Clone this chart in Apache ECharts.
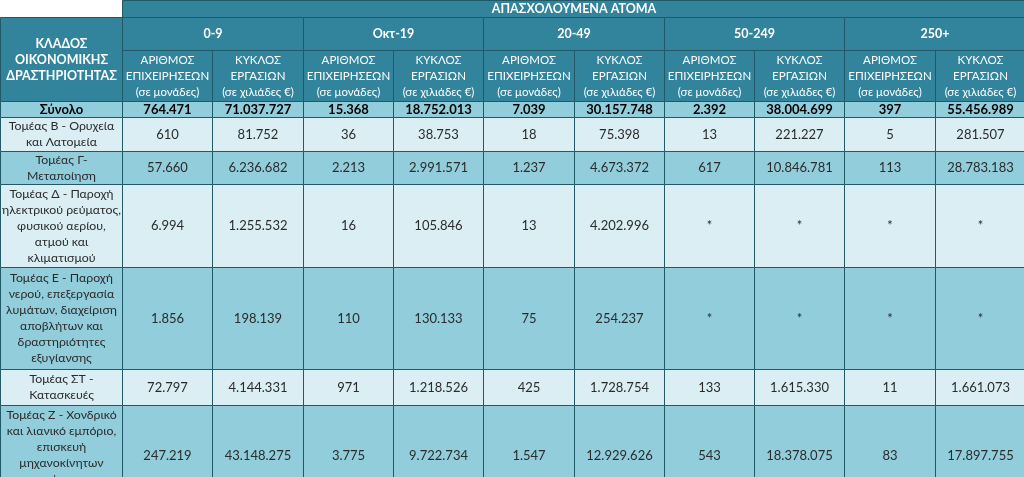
<!DOCTYPE html>
<html>
<head>
<meta charset="utf-8">
<script src="https://cdn.jsdelivr.net/npm/echarts@6/dist/echarts.min.js"></script>
<style>
html,body{margin:0;padding:0;background:#ffffff;}
#chart{width:1024px;height:477px;}
</style>
</head>
<body>
<div id="chart"></div>
<script>
// ---------- DATA ----------
const groupTitle = 'ΑΠΑΣΧΟΛΟΥΜΕΝΑ ΑΤΟΜΑ';
const rowHeaderTitle = 'ΚΛΑΔΟΣ\nΟΙΚΟΝΟΜΙΚΗΣ\nΔΡΑΣΤΗΡΙΟΤΗΤΑΣ';
const sizeClasses = ['0-9', 'Οκτ-19', '20-49', '50-249', '250+'];
const measureLabels = ['ΑΡΙΘΜΟΣ\nΕΠΙΧΕΙΡΗΣΕΩΝ\n(σε μονάδες)', 'ΚΥΚΛΟΣ\nΕΡΓΑΣΙΩΝ\n(σε χιλιάδες €)'];
const sectors = [
  'Σύνολο',
  'Τομέας Β - Ορυχεία\nκαι Λατομεία',
  'Τομέας Γ-\nΜεταποίηση',
  'Τομέας Δ - Παροχή\nηλεκτρικού ρεύματος,\nφυσικού αερίου,\nατμού και\nκλιματισμού',
  'Τομέας Ε - Παροχή\nνερού, επεξεργασία\nλυμάτων, διαχείριση\nαποβλήτων και\nδραστηριότητες\nεξυγίανσης',
  'Τομέας ΣΤ -\nΚατασκευές',
  'Τομέας Ζ - Χονδρικό\nκαι λιανικό εμπόριο,\nεπισκευή\nμηχανοκίνητων\nοχημάτων και\nμοτοσυκλετών'
];
const firms0_9       = [764471, 610, 57660, 6994, 1856, 72797, 247219];
const turnover0_9    = [71037727, 81752, 6236682, 1255532, 198139, 4144331, 43148275];
const firms10_19     = [15368, 36, 2213, 16, 110, 971, 3775];
const turnover10_19  = [18752013, 38753, 2991571, 105846, 130133, 1218526, 9722734];
const firms20_49     = [7039, 18, 1237, 13, 75, 425, 1547];
const turnover20_49  = [30157748, 75398, 4673372, 4202996, 254237, 1728754, 12929626];
const firms50_249    = [2392, 13, 617, null, null, 133, 543];
const turnover50_249 = [38004699, 221227, 10846781, null, null, 1615330, 18378075];
const firms250       = [397, 5, 113, null, null, 11, 83];
const turnover250    = [55456989, 281507, 28783183, null, null, 1661073, 17897755];
const valueColumns = [firms0_9, turnover0_9, firms10_19, turnover10_19, firms20_49,
                      turnover20_49, firms50_249, turnover50_249, firms250, turnover250];

// ---------- LAYOUT (table geometry in axis units) ----------
const colEdges = [0, 122, 212, 303, 393, 483, 574, 664, 754, 844, 935, 1025];
const rowEdges = [0, 17, 50, 101, 117, 151, 184, 267, 369, 405, 505];
const FONT = 'Lato, "Open Sans", sans-serif';
const styles = {
  blank: {fill: '#ffffff', stroke: null},
  head:  {fill: '#31849B', stroke: '#215967', color: '#ffffff', size: 12.5, weight: 'bold', lh: 16},
  sub:   {fill: '#31849B', stroke: '#215967', color: '#ffffff', size: 11.5, weight: 'normal', lh: 16},
  total: {fill: '#92CDDC', stroke: '#215967', color: '#000000', size: 13, weight: 'bold', lh: 16},
  light: {fill: '#DAEEF3', stroke: '#215967', color: '#2b2b2b', size: 13, weight: 'normal', lh: 16},
  mid:   {fill: '#92CDDC', stroke: '#215967', color: '#2b2b2b', size: 13, weight: 'normal', lh: 16}
};
const labelFontSize = 12.3;

function fmt(v) {
  if (v === null || v === undefined) return '*';
  return String(v).replace(/\B(?=(\d{3})+(?!\d))/g, '.');
}

const cells = [];
function addCell(c0, c1, r0, r1, text, kind, size) {
  cells.push({value: [colEdges[c0], colEdges[c1], rowEdges[r0], rowEdges[r1]], text: text, kind: kind, size: size});
}
addCell(0, 1, 0, 1, '', 'blank');
addCell(1, 11, 0, 1, groupTitle, 'head');
addCell(0, 1, 1, 3, rowHeaderTitle, 'head');
sizeClasses.forEach((s, i) => addCell(1 + 2 * i, 3 + 2 * i, 1, 2, s, 'head'));
for (let j = 0; j < 10; j++) addCell(1 + j, 2 + j, 2, 3, measureLabels[j % 2], 'sub');
sectors.forEach((name, r) => {
  const kind = r === 0 ? 'total' : (r % 2 === 1 ? 'light' : 'mid');
  addCell(0, 1, 3 + r, 4 + r, name, kind, r === 0 ? undefined : labelFontSize);
  valueColumns.forEach((col, j) => addCell(1 + j, 2 + j, 3 + r, 4 + r, fmt(col[r]), kind));
});

const chart = echarts.init(document.getElementById('chart'), null, {renderer: 'canvas'});
chart.setOption({
  animation: false,
  backgroundColor: '#ffffff',
  grid: {left: 0, right: 0, top: 0, bottom: 0},
  xAxis: {type: 'value', min: 0, max: 1024, show: false},
  yAxis: {type: 'value', min: 0, max: 477, inverse: true, show: false},
  series: [{
    type: 'custom',
    silent: true,
    clip: true,
    data: cells.map(c => c.value),
    renderItem: function (params, api) {
      const cell = cells[params.dataIndex];
      const st = styles[cell.kind];
      const p0 = api.coord([api.value(0), api.value(2)]);
      const p1 = api.coord([api.value(1), api.value(3)]);
      const x = Math.round(p0[0]), y = Math.round(p0[1]);
      const w = Math.round(p1[0]) - x, h = Math.round(p1[1]) - y;
      return {
        type: 'rect',
        shape: {x: x + 0.5, y: y + 0.5, width: w, height: h},
        style: {fill: st.fill, stroke: st.stroke || null, lineWidth: st.stroke ? 1 : 0},
        textContent: cell.text ? {
          style: {
            text: cell.text, fill: st.color, fontFamily: FONT, fontSize: cell.size || st.size,
            fontWeight: st.weight, lineHeight: st.lh, align: 'center'
          }
        } : undefined,
        textConfig: {position: 'inside'}
      };
    }
  }]
});
</script>
</body>
</html>
